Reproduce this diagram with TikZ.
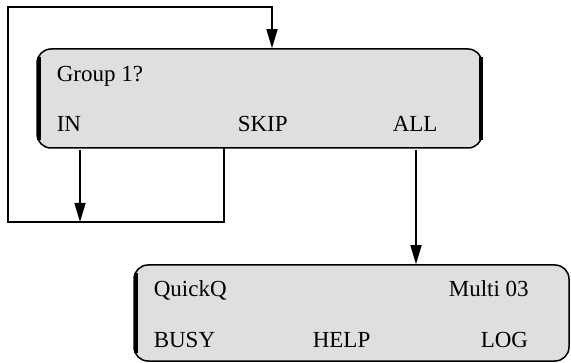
\documentclass[tikz,border=0pt]{standalone}
\usepackage{fontspec}
\setmainfont{Liberation Serif}
\usetikzlibrary{arrows.meta}

\begin{document}
\begin{tikzpicture}[x=1pt, y=1pt, line width=1.6pt,
        lcd/.style = {draw, fill=gray!25, rounded corners=14pt, line width=1.5pt, inner sep=0pt},
        txt/.style = {anchor=base west, inner sep=0pt, font=\fontsize{23}{27}\selectfont},
        arr/.style = {-{Triangle[length=19pt, width=11pt]}}]
        \useasboundingbox (0,0) rectangle (571,362);
        % the two displays
        \node[lcd, minimum width=445pt, minimum height=99pt] (1) at (259.5,263.5) {};
        \node[lcd, minimum width=435pt, minimum height=96pt] (2) at (351.5,49) {};
        \draw[line width=4pt] ([shift={(2.5pt,-9pt)}]1.north west) -- ([shift={(2.5pt,9pt)}]1.south west);
        \draw[line width=3.5pt] ([shift={(-2pt,-9pt)}]1.north east) -- ([shift={(-2pt,9pt)}]1.south east);
        \draw[line width=4pt] ([shift={(2.5pt,-9pt)}]2.north west) -- ([shift={(2.5pt,9pt)}]2.south west);
        % texts
        \node[txt] (g)    at (56,280)  {Group 1?};
        \node[txt] (in)   at (56,230)  {IN};
        \node[txt] (skip) at (237,230) {SKIP};
        \node[txt] (all)  at (392,230) {ALL};
        \node[txt] (q)    at (153,66)  {QuickQ};
        \node[txt] (m)    at (448,66)  {Multi 03};
        \node[txt] (busy) at (153,15)  {BUSY};
        \node[txt] (help) at (312,15)  {HELP};
        \node[txt] (log)  at (480,15)  {LOG};
        % connectors
        \coordinate (s)  at (224,214);
        \coordinate (lo) at (8,140);
        \coordinate (hi) at (272,355);
        \coordinate (i)  at (80,212);
        \coordinate (a)  at (416,212);
        \draw[arr] (s) |- (lo) |- (hi) -- (1.north -| hi);
        \draw[arr] (i) -- (i |- lo);
        \draw[arr] (a) -- (2.north -| a);
    \end{tikzpicture}
\end{document}
